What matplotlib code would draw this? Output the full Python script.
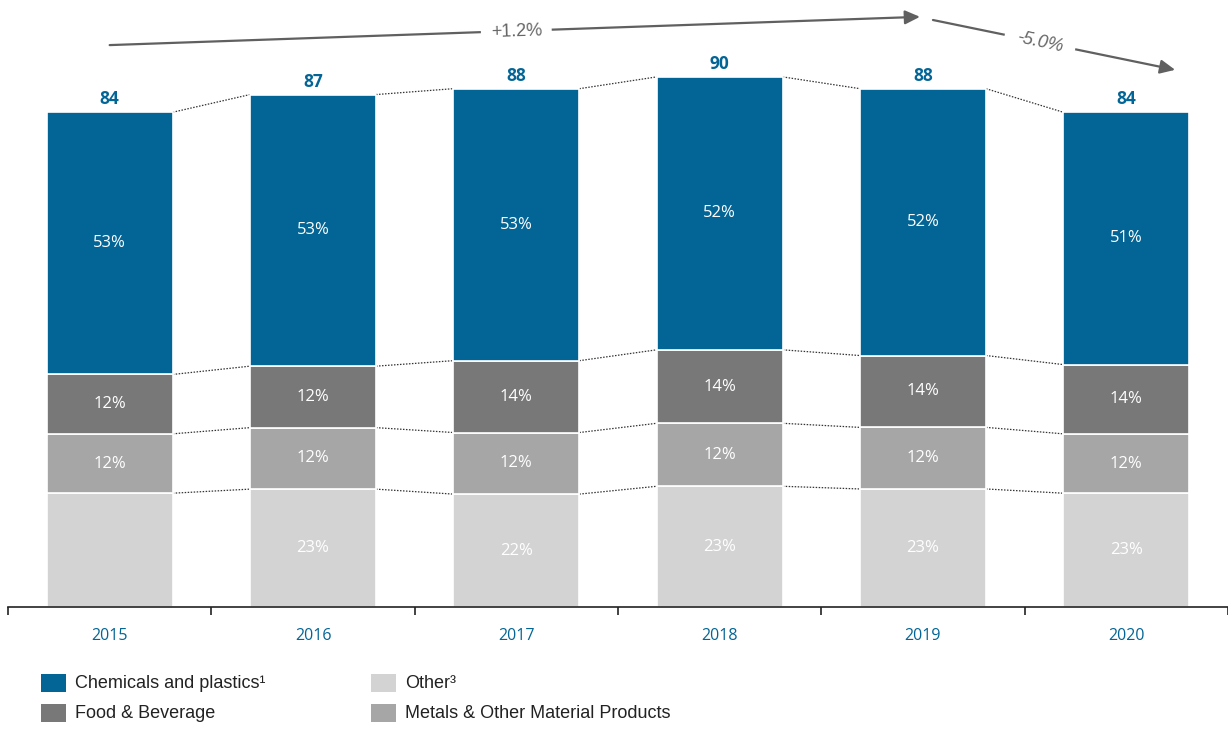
import matplotlib
matplotlib.use("Agg")
import matplotlib.pyplot as plt
from matplotlib.patches import Rectangle
import numpy as np

years = ["2015", "2016", "2017", "2018", "2019", "2020"]
totals = [84, 87, 88, 90, 88, 84]
other_pct = [23, 23, 22, 23, 23, 23]
metals_pct = [12, 12, 12, 12, 12, 12]
food_pct = [12, 12, 14, 14, 14, 14]
chem_pct = [53, 53, 53, 52, 52, 51]
other_labels = ["", "23%", "22%", "23%", "23%", "23%"]

series_names = ["Other\u00b3", "Metals & Other Material Products",
                "Food & Beverage", "Chemicals and plastics\u00b9"]
colors = ["#d3d3d3", "#a6a6a6", "#787878", "#036595"]
BLUE = "#036595"
GRAY_TXT = "#666666"

pcts = np.array([other_pct, metals_pct, food_pct, chem_pct], dtype=float)
tot = np.array(totals, dtype=float)
# segment values: each share of the year's total (normalised for rounding)
values = pcts / pcts.sum(axis=0) * tot

W, H = 1228, 729
PX_PER_UNIT = 5.89
fig = plt.figure(figsize=(W / 100, H / 100), dpi=100)
ax = fig.add_axes([8 / W, (H - 607) / H, 1220 / W, 607 / H])
ax.set_xlim(-0.5, 5.5)
ax.set_ylim(0, 607 / PX_PER_UNIT)

x = np.arange(len(years))
bw = 0.62
bottoms = np.zeros(len(years))
bounds = [bottoms.copy()]
for i in range(4):
    ax.bar(x, values[i], bw, bottom=bottoms, color=colors[i],
           edgecolor="white", linewidth=1.2, zorder=2)
    for j in range(len(years)):
        lab = other_labels[j] if i == 0 else f"{int(pcts[i, j])}%"
        if lab:
            ax.text(x[j], bottoms[j] + values[i, j] / 2, lab, ha="center",
                    va="center", color="white", fontsize=12,
                    family="Open Sans", zorder=3)
    bottoms = bottoms + values[i]
    bounds.append(bottoms.copy())

# dotted connectors between neighbouring bars at every segment boundary
for b in bounds[1:]:
    for j in range(len(years) - 1):
        ax.plot([x[j] + bw / 2, x[j + 1] - bw / 2], [b[j], b[j + 1]],
                linestyle=(0, (1.2, 1.2)), color="#333333", linewidth=0.9,
                zorder=1)

# totals above the bars
for j in range(len(years)):
    ax.text(x[j], tot[j] + 8 / PX_PER_UNIT, f"{totals[j]}", ha="center",
            va="baseline", color=BLUE, fontsize=12.5, fontweight="bold",
            family="Open Sans")

# growth arrows
arrow_kw = dict(arrowstyle="-|>,head_length=0.9,head_width=0.42",
                color="#606060", lw=1.6, shrinkA=0, shrinkB=0)
ax.annotate("", xy=(3.985, 100.2), xytext=(0.0, 95.4),
            arrowprops=arrow_kw, annotation_clip=False)
ax.text(2.0, 97.6, "+1.2%", ha="center", va="center", color=GRAY_TXT,
        fontsize=13, family="Liberation Sans", rotation=1.8,
        bbox=dict(facecolor="white", edgecolor="none", pad=7))
ax.annotate("", xy=(5.24, 91.2), xytext=(4.049, 99.66),
            arrowprops=arrow_kw, annotation_clip=False)
ax.text(4.575, 95.9, "-5.0%", ha="center", va="center", color=GRAY_TXT,
        fontsize=13, family="Liberation Sans", style="italic", rotation=-12,
        bbox=dict(facecolor="white", edgecolor="none", pad=9))

# axes styling
for s in ["top", "right", "left"]:
    ax.spines[s].set_visible(False)
ax.spines["bottom"].set_color("#222222")
ax.spines["bottom"].set_linewidth(1.2)
ax.set_yticks([])
ax.set_xticks(x)
ax.set_xticklabels(years, color=BLUE, fontsize=11.5, family="Open Sans")
ax.tick_params(axis="x", which="major", length=0, pad=15)
ax.set_xticks(np.arange(-0.5, 5.6, 1.0), minor=True)
ax.tick_params(axis="x", which="minor", length=6, width=1.2,
               color="#222222", direction="out")

# legend: two columns of colour swatches with labels
legend_items = [(3, 41, 683), (2, 41, 713), (0, 371, 683), (1, 371, 713)]
for idx, lx, ly in legend_items:
    fig.patches.append(Rectangle((lx / W, 1 - (ly + 9) / H), 25 / W, 18 / H,
                                 transform=fig.transFigure,
                                 facecolor=colors[idx], edgecolor="none"))
    fig.text((lx + 34) / W, 1 - ly / H, series_names[idx], ha="left",
             va="center", fontsize=13, family="Liberation Sans",
             color="#222222")

fig.savefig("out.png", dpi=100, facecolor="white")
